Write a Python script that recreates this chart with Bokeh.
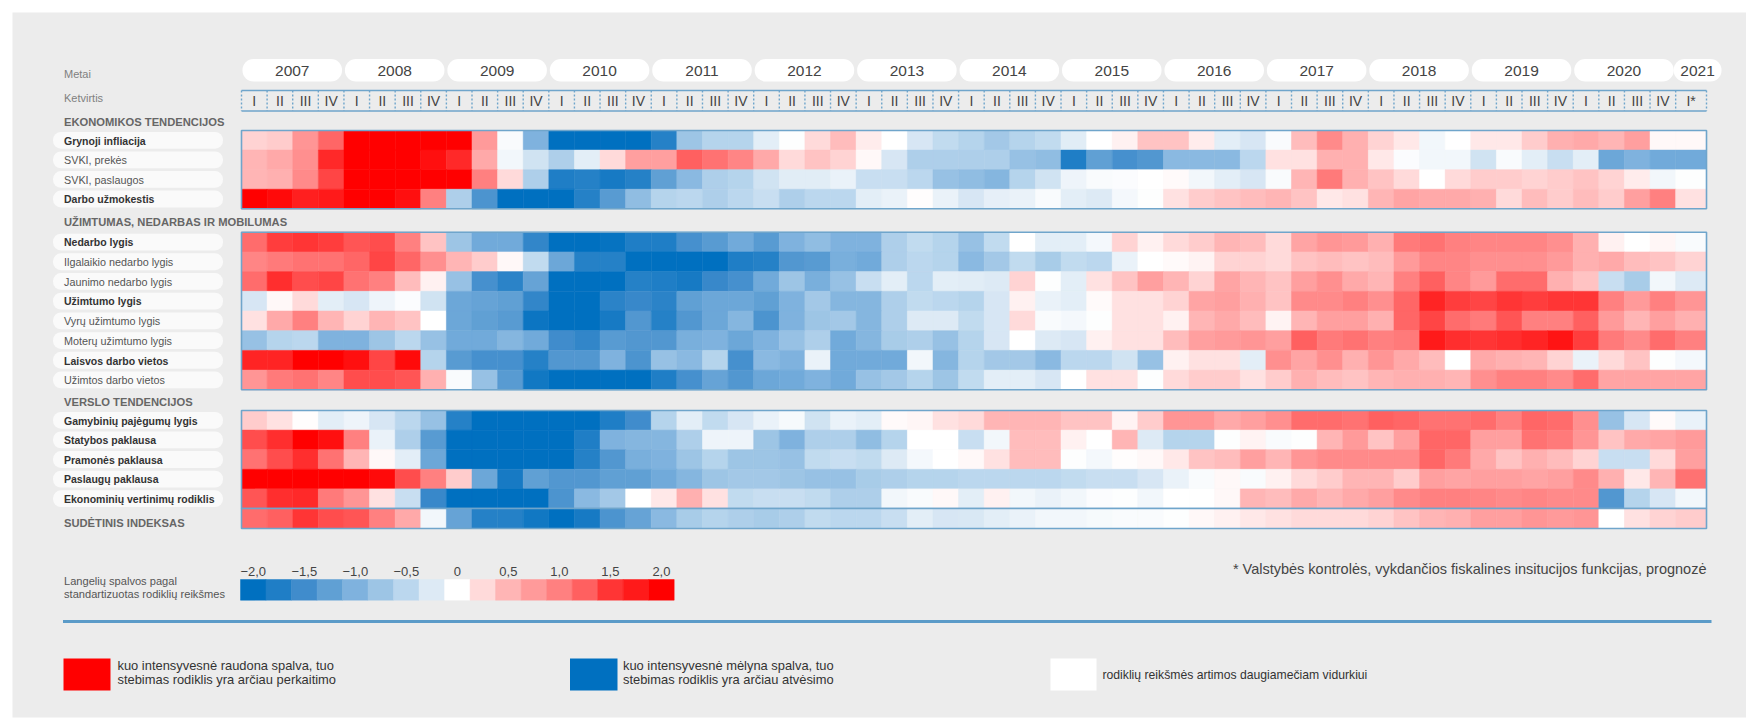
from bokeh.plotting import figure
from bokeh.models import Range1d, LinearColorMapper, ColumnDataSource
from bokeh.transform import transform
from bokeh.core.properties import value
from bokeh.embed import file_html
from bokeh.resources import INLINE

years = ["2007","2008","2009","2010","2011","2012","2013","2014","2015","2016","2017","2018","2019","2020","2021"]
quarters = ["I","II","III","IV"]
last_quarter = "I*"
section_titles = ["EKONOMIKOS TENDENCIJOS", "UŽIMTUMAS, NEDARBAS IR MOBILUMAS", "VERSLO TENDENCIJOS"]
index_title = "SUDĖTINIS INDEKSAS"

labels_econ = ["Grynoji infliacija", "SVKI, prekės", "SVKI, paslaugos", "Darbo užmokestis"]
labels_work = ["Nedarbo lygis", "Ilgalaikio nedarbo lygis", "Jaunimo nedarbo lygis", "Užimtumo lygis",
               "Vyrų užimtumo lygis", "Moterų užimtumo lygis", "Laisvos darbo vietos", "Užimtos darbo vietos"]
labels_biz = ["Gamybinių pajėgumų lygis", "Statybos paklausa", "Pramonės paklausa", "Paslaugų paklausa",
              "Ekonominių vertinimų rodiklis"]
bold_labels = {"Grynoji infliacija", "Darbo užmokestis", "Nedarbo lygis", "Užimtumo lygis", "Laisvos darbo vietos",
               "Gamybinių pajėgumų lygis", "Statybos paklausa", "Pramonės paklausa", "Paslaugų paklausa",
               "Ekonominių vertinimų rodiklis"}

r1 = [.3,.35,.8,1.2, 2,2,2,2, 2,.75,-.05,-1.0, -2,-2,-2,-2, -1.7,-.75,-.55,-.55, -.2,-.02,.25,.45, .12,0,-.3,-.45, -.55,-.7,-.55,-.45, -.22,0,.1,.4, .4,.12,-.2,-.3, -.05,.45,.9,.55, .3,.15,-.1,0, .15,.15,.35,.55, .6,.5,.7,.05, .05]
r2 = [.5,.6,.85,1.6, 2,2,2,1.85, 1.6,.6,-.1,-.35, -.6,-.2,.25,.7, .7,1.25,1.1,.95, .6,.25,.4,.3, .05,-.3,-.6,-.6, -.6,-.6,-.8,-.85, -1.75,-1.25,-1.45,-1.35, -.9,-.9,-.9,-.5, .2,.2,.55,.55, .15,-.03,-.1,-.1, -.35,-.05,-.2,-.4, -.2,-1.15,-1.0,-1.1, -1.1]
r3 = [.5,.55,.9,1.4, 2,2,2,2, 2,1.0,.25,-.6, -1.75,-1.7,-1.8,-1.7, -1.25,-.9,-.6,-.55, -.35,-.22,-.22,-.15, -.4,-.4,-.5,-.8, -.85,-.95,-.55,-.35, -.12,-.05,-.03,0, .03,-.1,-.2,-.3, -.05,.5,1.05,.55, .4,.25,0,.25, .35,.35,.3,.35, .4,.3,.12,-.1, -.02]
r4 = [2,1.9,1.7,1.75, 2,2,1.85,1.0, -.6,-1.4,-2,-2, -2,-1.7,-1.3,-.85, -.55,-.5,-.6,-.5, -.4,-.6,-.5,-.5, -.2,-.15,.02,-.15, -.3,-.18,-.15,-.05, -.2,-.25,-.08,-.02, .2,.35,.4,.45, .5,.4,.15,.2, .5,.65,.6,.6, .55,.25,.45,.35, .45,.35,.7,1.0, .2]
r5 = [1.15,1.45,1.5,1.45, 1.3,1.35,1.0,.4, -.75,-1.1,-1.1,-1.6, -2,-2,-1.95,-1.75, -1.75,-1.45,-1.3,-1.1, -1.3,-1.0,-.85,-1.0, -1.0,-.6,-.45,-.55, -.8,-.45,0,-.2, -.2,-.08,.3,.1, .25,.35,.5,.45, .25,.65,.8,.75, .55,1.05,1.1,1.0, .95,.95,.95,.85, .55,.1,0,.07, -.05]
r6 = [.95,1.05,1.1,1.1, 1.2,1.4,1.2,.85, .5,.35,.05,-.45, -1.15,-1.7,-1.7,-2, -2,-2,-2,-1.75, -1.7,-1.35,-1.3,-1.05, -1.1,-.6,-.5,-.55, -.9,-.7,-.45,-.65, -.45,-.5,-.15,0, .03,.08,.3,.3, .25,.4,.45,.4, .45,.75,.95,.95, .85,.85,.85,.75, .55,.6,.45,.4, .3]
r7 = [1.15,1.55,1.35,1.4, 1.1,1.0,.45,.1, -.8,-1.45,-1.65,-1.2, -2,-2,-2,-1.7, -1.75,-1.8,-1.55,-1.45, -1.1,-.75,-1.05,-.8, -.4,-.2,-.5,-.2, -.22,-.25,.3,-.02, -.2,.2,.4,.7, .5,.3,.65,.5, .4,.7,.85,.6, .5,1.0,1.25,.95, .75,1.15,1.15,.55, .4,-.4,-.65,-.1, -.25]
r8 = [-.3,.05,.25,-.2, -.3,-.12,-.03,-.35, -1.15,-1.2,-1.25,-1.6, -2,-2,-1.65,-1.55, -1.65,-1.25,-1.15,-1.15, -1.25,-1.0,-.7,-.95, -.95,-.6,-.45,-.5, -.55,-.3,.1,-.15, -.2,.03,.2,.2, .3,.65,.7,.55, .4,.9,.9,1.0, .85,1.2,1.65,1.45, 1.4,1.5,1.45,1.5, 1.5,1.0,.75,1.0, .8]
r9 = [.2,.6,1.0,.5, .3,.5,.4,0, -1.15,-1.25,-1.3,-1.9, -2,-2,-1.8,-1.35, -1.7,-1.35,-1.15,-.95, -1.4,-1.0,-.75,-.7, -.95,-.6,-.25,-.25, -.45,-.3,.25,-.05, -.08,-.02,.2,.2, .1,.5,.6,.45, .08,.5,.7,.7, .55,1.2,1.4,1.15, 1.05,1.3,1.0,1.0, 1.25,.75,.5,.7, .55]
r10 = [-.8,-.55,-.5,-1.0, -1.0,-.75,-.5,-.8, -1.1,-1.1,-.95,-1.1, -1.5,-1.6,-1.3,-1.35, -1.35,-1.05,-1.0,-1.15, -1.0,-.8,-.6,-1.1, -.95,-.65,-.6,-.8, -.55,-.3,0,-.25, -.3,.1,.2,.2, .45,.7,.75,.8, .7,1.25,1.05,1.1, 1.0,1.05,1.75,1.55, 1.5,1.55,1.65,1.8, 1.45,1.05,.9,1.15, 1.0]
r11 = [1.65,1.65,2,2, 1.85,1.4,1.9,-.55, -1.3,-1.45,-1.45,-1.7, -1.35,-1.35,-1.0,-1.4, -.8,-.9,-.55,-1.45, -.9,-1.0,-.15,-1.1, -1.1,-1.1,-.1,-.95, -.55,-.7,-.7,-.9, -.5,-.5,-.35,-.8, .1,.2,.2,-.2, .85,.65,.85,.55, .8,.6,.45,0, .6,.55,.5,.3, -.15,.25,.4,-.02, -.08]
r12 = [.8,1.05,1.1,.95, 1.35,1.35,1.3,.55, -.05,-.8,-1.3,-1.85, -2,-2,-2,-2, -1.75,-1.45,-1.2,-1.35, -1.15,-1.1,-1.0,-1.1, -.8,-.7,-.55,-.75, -.45,-.2,-.2,-.3, 0,.2,.2,-.02, .25,.35,.35,.2, .35,.55,.45,.4, .5,.55,.55,.5, .85,1.0,1.0,.9, 1.15,.65,.65,.65, .65]
r13 = [.35,.2,.02,-.2, -.12,-.3,-.5,-.8, -1.7,-2,-2,-2, -2,-2,-1.75,-1.5, -.55,-.2,-.45,-.3, -.15,-.07,-.35,-.15, -.2,.03,.07,.2, .25,.5,.5,.5, .4,.4,.08,.35, .8,.8,.6,.7, .85,1.15,1.15,1.1, 1.25,1.2,1.1,1.1, 1.15,1.0,1.2,1.15, .85,-.8,-.3,.03, -.15]
r14 = [1.35,1.55,2,1.85, 1.0,-.15,-.6,-1.3, -2,-2,-2,-2, -2,-1.75,-1.0,-.95, -.95,-.6,-.12,-.12, -.75,-1.0,-.6,-.6, -.85,-.55,0,0, -.4,-.1,.45,.45, .1,0,.5,-.25, -.55,-.55,-.02,.08, -.05,-.02,.5,.75, .4,.7,1.2,1.2, .7,.7,1.1,1.05, .8,.4,.6,.65, .75]
r15 = [1.1,1.35,1.55,1.1, .5,.05,-.2,-1.15, -2,-2,-2,-2, -2,-1.7,-1.35,-1.05, -1.0,-.75,-.55,-.75, -.75,-.8,-.45,-.4, -.45,-.25,-.08,0, .05,.2,.45,.45, -.02,-.08,.02,.05, .15,.4,.45,.7, .5,.8,.9,.9, .9,.9,1.2,1.05, .6,.4,.55,.45, .3,-.4,-.4,.25, .7]
r16 = [2,2,2,2, 2,1.9,1.35,1.0, .35,-1.15,-1.8,-1.25, -1.35,-1.35,-1.25,-1.25, -1.1,-.95,-.75,-.7, -.7,-.75,-.8,-.8, -.65,-.6,-.55,-.55, -.5,-.5,-.5,-.5, -.45,-.4,-.4,-.3, -.15,-.05,.05,-.05, .1,.25,.35,.5, .5,.35,.7,.65, .7,.7,.65,.7, .9,.55,.15,.5, 1.1]
r17 = [1.3,1.55,1.6,1.05, .8,.2,-.4,-1.55, -2,-2,-2,-2, -1.4,-.9,-.7,0, .15,.55,.2,-.45, -.4,-.4,-.45,-.6, -.6,-.1,-.05,.05, -.2,.1,-.1,-.15, -.1,-.03,-.02,-.1, 0,0,.05,.5, .45,.6,.5,.6, .7,.9,1.0,1.0, .95,.9,.95,.9, .9,-1.35,-.55,-.3, -.1]
r18 = [1.15,1.25,1.5,1.35, 1.3,1.0,.6,-.1, -1.2,-1.7,-1.7,-1.85, -2,-1.8,-1.4,-1.2, -.9,-.65,-.55,-.6, -.65,-.6,-.45,-.5, -.5,-.4,-.2,-.3, -.28,-.2,-.15,-.1, -.1,-.07,-.05,-.05, -.02,.05,.1,.15, .2,.25,.25,.25, .3,.4,.5,.55, .7,.7,.8,.75, .8,0,.2,.3, .35]

legend_values = [-2,-1.75,-1.5,-1.25,-1,-.75,-.5,-.25,0,.25,.5,.75,1,1.25,1.5,1.75,2]
legend_labels = ["−2,0","−1,5","−1,0","−0,5","0","0,5","1,0","1,5","2,0"]
scale_caption = ["Langelių spalvos pagal", "standartizuotas rodiklių reikšmes"]
footnote = "* Valstybės kontrolės, vykdančios fiskalines insitucijos funkcijas, prognozė"
key_red = ["kuo intensyvesnė raudona spalva, tuo", "stebimas rodiklis yra arčiau perkaitimo"]
key_blue = ["kuo intensyvesnė mėlyna spalva, tuo", "stebimas rodiklis yra arčiau atvėsimo"]
key_white = "rodiklių reikšmės artimos daugiamečiam vidurkiui"

rows_econ = [r1, r2, r3, r4]
rows_work = [r5, r6, r7, r8, r9, r10, r11, r12]
rows_biz = [r13, r14, r15, r16, r17]
rows_index = [r18]

anchors = ["#0070C0","#1F7EC6","#408CCC","#60A0D4","#7FB2DE","#9DC5E5","#BBD7EE","#DDEAF5","#FFFFFF",
           "#FFDADA","#FFB5B5","#FF9A9A","#FF8080","#FF6060","#FF3535","#FF1A1A","#FF0000"]
def rgb(h): return [int(h[i:i+2],16) for i in (1,3,5)]
ramp = []
for a,b in zip(anchors[:-1],anchors[1:]):
    ca,cb = rgb(a),rgb(b)
    for k in range(16):
        t = k/16
        ramp.append("#%02X%02X%02X" % tuple(round(x+(y-x)*t) for x,y in zip(ca,cb)))
ramp.append(anchors[-1])
mapper = LinearColorMapper(palette=ramp, low=-2, high=2)

# layout in reference pixels
X0, CW, XR = 241.0, 25.61, 1706.0
FRAME = "#6FA5CB"
FONT = value("Liberation Sans")
PANEL = "#ECECEC"

p = figure(width=1746, height=720, x_range=Range1d(0,1746), y_range=Range1d(720,0),
           output_backend="svg", toolbar_location=None, min_border=0,
           x_axis_location=None, y_axis_location=None, background_fill_color="#FFFFFF",
           border_fill_color="#FFFFFF", outline_line_color=None)
p.grid.visible = False

def txt(x, y, s, size=11, color="#444444", align="left", bold=False):
    p.text(x=[x], y=[y], text=[s], text_font=FONT, text_font_size=value(f"{size}px"),
           text_color=color, text_align=align, text_baseline="middle",
           text_font_style="bold" if bold else "normal")

p.quad(left=[12], right=[1746], top=[12], bottom=[717], fill_color=PANEL, line_color=None)

# year pills
for i, yr in enumerate(years):
    left = X0 + 1 + i*4*CW
    right = left + 99.5 if yr != "2021" else 1721
    if yr == "2021":
        left = X0 + 56*CW - 2
    p.quad(left=[left], right=[right], top=[58.5], bottom=[81], fill_color="#FFFFFF", line_color=None, border_radius=11)
    txt((left+right)/2, 70, yr, size=15.5, align="center")

# quarters
ncol = 57
col_left = [X0 + i*CW for i in range(ncol)]
col_right = [X0 + (i+1)*CW for i in range(ncol-1)] + [XR]
q_text = [quarters[i % 4] for i in range(ncol-1)] + [last_quarter]
p.segment(x0=col_left+[XR], x1=col_left+[XR], y0=[90]*(ncol+1), y1=[110.5]*(ncol+1),
          line_color=FRAME, line_width=1.4, line_dash="2 2")
p.segment(x0=[X0,X0], x1=[XR,XR], y0=[90,110.5], y1=[90,110.5], line_color=FRAME, line_width=1.6)
for l,r,q in zip(col_left,col_right,q_text):
    txt((l+r)/2, 100.5, q, size=14, align="center")

txt(63.5, 73, "Metai", color="#808080")
txt(63.5, 97.5, "Ketvirtis", color="#808080")

# groups
groups = [(130, 208.3, rows_econ, labels_econ, section_titles[0], 121.7),
          (231.7, 389.3, rows_work, labels_work, section_titles[1], 221),
          (410, 508, rows_biz, labels_biz, section_titles[2], 401),
          (508, 528, rows_index, [None], None, None)]
for top, bot, rows, labs, title, ty in groups:
    h = (bot-top)/len(rows)
    L,R,T,B,Z = [],[],[],[],[]
    for j,row in enumerate(rows):
        assert len(row) == ncol
        for c,v in enumerate(row):
            L.append(col_left[c]); R.append(col_right[c]); T.append(top+j*h); B.append(top+(j+1)*h); Z.append(v)
    src = ColumnDataSource(dict(l=L,r=R,t=T,b=B,z=Z))
    p.quad(left="l", right="r", top="t", bottom="b", source=src,
           fill_color=transform("z",mapper), line_color=transform("z",mapper), line_width=0.5)
    p.quad(left=[X0], right=[XR], top=[top], bottom=[bot], fill_color=None, line_color=FRAME, line_width=1.6)
    if title:
        txt(63.5, ty, title, size=11.2, color="#666666", bold=True)
    for j,lab in enumerate(labs):
        if lab is None:
            continue
        yc = top + (j+.5)*h
        p.quad(left=[52.5], right=[222.5], top=[yc-8.4], bottom=[yc+8.4], fill_color="#FAFAFA", line_color=None, border_radius=8)
        b = lab in bold_labels
        txt(63.5, yc+.3, lab, size=10.5 if b else 10.8, color="#333333" if b else "#555555", bold=b)
txt(63.5, 522, index_title, size=11.2, color="#666666", bold=True)

# colour legend
sw = CW-0.1
src = ColumnDataSource(dict(l=[240+i*sw for i in range(len(legend_values))],
                            r=[240+(i+1)*sw for i in range(len(legend_values))],
                            z=legend_values))
p.quad(left="l", right="r", top=579, bottom=599.7, source=src,
       fill_color=transform("z",mapper), line_color=transform("z",mapper), line_width=0.5)
for i,s in enumerate(legend_labels):
    txt(240+(2*i+.5)*sw, 570.5, s, size=13, align="center")
txt(63.5, 580.7, scale_caption[0], size=11.1, color="#555555")
txt(63.5, 593.7, scale_caption[1], size=11.1, color="#555555")
txt(1706, 568, footnote, size=14.5, align="right")

p.segment(x0=[62.5], x1=[1711], y0=[621], y1=[621], line_color="#5B9BC8", line_width=3)

# bottom key
p.quad(left=[63], right=[110], top=[658], bottom=[690], fill_color="#FF0000", line_color=None)
p.quad(left=[569.5], right=[617], top=[658], bottom=[690], fill_color="#0070C0", line_color=None)
p.quad(left=[1050], right=[1096], top=[658], bottom=[690], fill_color="#FFFFFF", line_color=None)
txt(117, 664.5, key_red[0], size=12.9, color="#333333")
txt(117, 679, key_red[1], size=12.9, color="#333333")
txt(622.5, 664.5, key_blue[0], size=12.9, color="#333333")
txt(622.5, 679, key_blue[1], size=12.9, color="#333333")
txt(1102, 674, key_white, size=12.2, color="#333333")

open("out.html", "w").write(file_html(p, INLINE))
